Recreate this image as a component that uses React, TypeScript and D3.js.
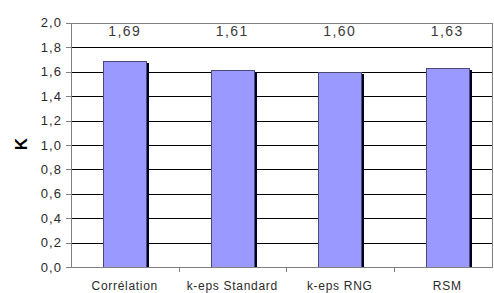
import React from "react";
import * as d3 from "d3";

const categories = ["Corrélation", "k-eps Standard", "k-eps RNG", "RSM"];
const values = [1.69, 1.61, 1.6, 1.63];
const valueLabels = ["1,69", "1,61", "1,60", "1,63"];
const yTicks = [0, 0.2, 0.4, 0.6, 0.8, 1.0, 1.2, 1.4, 1.6, 1.8, 2.0];
const yLabel = "K";

export default function App() {
  const W = 494, H = 293;
  const left = 71, right = 501, top = 22.7, bottom = 267.3;
  const x = d3.scaleBand<string>().domain(categories).range([left, right]).paddingInner(0).paddingOuter(0);
  const y = d3.scaleLinear().domain([0, 2]).range([bottom, top]);
  const barW = 43;
  const fmt = (v: number) => v.toFixed(1).replace(".", ",");
  const font = "Arial, 'Liberation Sans', sans-serif";
  const txt = "#2a2a2a";
  return (
    <svg width={W} height={H} style={{ position: "absolute", left: 0, top: 0, background: "#fff" }}>
      <rect x={0} y={0} width={W} height={H} fill="#fff" />
      {yTicks.map((t, i) => (
        <line key={"g" + i} x1={left} x2={493} y1={Math.round(y(t)) + 0.5} y2={Math.round(y(t)) + 0.5}
          stroke={t === 2 ? "#808080" : "#000"} strokeWidth={1} />
      ))}
      <line x1={492.5} x2={492.5} y1={Math.round(y(2)) + 0.5} y2={Math.round(y(0)) + 0.5} stroke="#808080" />
      {values.map((v, i) => {
        const cx = (x(categories[i]) as number) + x.bandwidth() / 2;
        const bx = Math.round(cx - barW / 2);
        const by = Math.round(y(v));
        return (
          <g key={"b" + i}>
            <rect x={bx + barW} y={by + 2} width={3} height={Math.round(y(0)) - by - 2} fill="#000022" />
            <rect x={bx + 0.5} y={by + 0.5} width={barW} height={Math.round(y(0)) - by} fill="#9999FF" stroke="#4a4a7a" strokeWidth={1} />
          </g>
        );
      })}
      <line x1={left + 0.5} x2={left + 0.5} y1={Math.round(y(2))} y2={Math.round(y(0)) + 1} stroke="#808080" />
      <line x1={left} x2={493} y1={Math.round(y(0)) + 0.5} y2={Math.round(y(0)) + 0.5} stroke="#808080" />
      {yTicks.map((t, i) => (
        <g key={"t" + i}>
          <line x1={66} x2={left} y1={Math.round(y(t)) + 0.5} y2={Math.round(y(t)) + 0.5} stroke="#808080" />
          <text x={62} y={y(t) + 4.5} textAnchor="end" fontFamily={font} fontSize={13} letterSpacing={1.1} fill={txt}>{fmt(t)}</text>
        </g>
      ))}
      {categories.map((c, i) => {
        const bx = (x(c) as number);
        return (
          <g key={"c" + i}>
            {i > 0 && <line x1={Math.round(bx) + 0.5} x2={Math.round(bx) + 0.5} y1={Math.round(y(0))} y2={Math.round(y(0)) + 5} stroke="#808080" />}
            <text x={bx + x.bandwidth() / 2} y={289.5} textAnchor="middle" fontFamily={font} fontSize={12} letterSpacing={0.7} fill={txt}>{c}</text>
            <text x={bx + x.bandwidth() / 2} y={35.5} textAnchor="middle" fontFamily={font} fontSize={14} letterSpacing={1.5} fill="#3a3a3a">{valueLabels[i]}</text>
          </g>
        );
      })}
      <text transform="translate(27,144) rotate(-90)" textAnchor="middle" fontFamily={font} fontSize={17} fontWeight="bold" fill="#000">{yLabel}</text>
    </svg>
  );
}
